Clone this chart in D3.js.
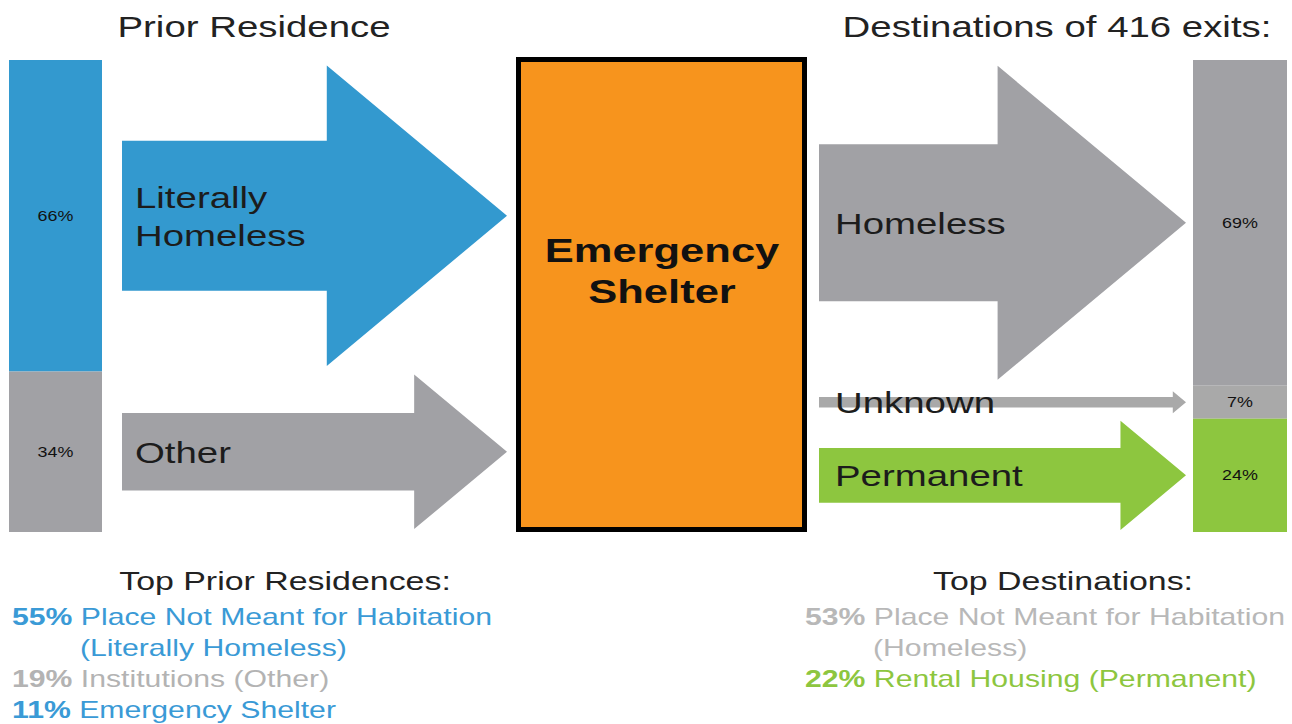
<!DOCTYPE html>
<html>
<head>
<meta charset="utf-8">
<script src="https://cdn.jsdelivr.net/npm/d3@7"></script>
<style>
  body { margin: 0; background: #fff; }
  svg { display: block; font-family: "Liberation Sans", Arial, sans-serif; }
</style>
</head>
<body>
<div id="chart"></div>
<script>
// data
var priorCategories = ["Literally Homeless", "Other"];
var priorValues = [66, 34];
var destCategories = ["Homeless", "Unknown", "Permanent"];
var destValues = [69, 7, 24];
var exitCount = 416;

var topPriorPct = [55, 19, 11];
var topPriorText = ["Place Not Meant for Habitation", "Institutions (Other)", "Emergency Shelter"];
var topPriorNote = ["(Literally Homeless)", null, null];
var topPriorGroup = ["Literally Homeless", "Other", "Literally Homeless"];

var topDestPct = [53, 22];
var topDestText = ["Place Not Meant for Habitation", "Rental Housing (Permanent)"];
var topDestNote = ["(Homeless)", null];
var topDestGroup = ["Homeless", "Permanent"];

var width = 1292, height = 724;
var sx = 1.28; // the original picture is stretched sideways

var colour = {
  "Literally Homeless": "#3399cf",
  "Other": "#a1a1a5",
  "Homeless": "#a1a1a5",
  "Unknown": "#a9a9a9",
  "Permanent": "#8dc63f"
};
var textColour = {
  "Literally Homeless": "#3a9ad6",
  "Other": "#b3b3b3",
  "Homeless": "#b8b8b8",
  "Permanent": "#8dc63f"
};

var svg = d3.select("#chart").append("svg")
  .attr("width", width)
  .attr("height", height);

var y = d3.scaleLinear().domain([0, 100]).range([60, 532]);
var thick = d3.scaleLinear().domain([0, 69]).range([0, 157]);

function stack(cats, vals) {
  var acc = 0;
  return cats.map(function(c, i) {
    var d = { name: c, value: vals[i], y0: acc, y1: acc + vals[i] };
    acc += vals[i];
    return d;
  });
}
var prior = stack(priorCategories, priorValues);
var dest = stack(destCategories, destValues);

function stretchedText(g, x, yy, size, anchor) {
  return g.append("text")
    .attr("transform", "translate(" + x + "," + yy + ") scale(" + sx + ",1)")
    .attr("font-size", size)
    .attr("text-anchor", anchor || "start");
}

// arrow: body of thickness t centred on cy, head twice as tall
function arrowPath(x0, x1, cy, t) {
  var hh = Math.max(t, 11), hl = 2 * hh * 0.6, hx = x1 - hl;
  return "M" + x0 + "," + (cy - t / 2) +
    "L" + hx + "," + (cy - t / 2) +
    "L" + hx + "," + (cy - hh) +
    "L" + x1 + "," + cy +
    "L" + hx + "," + (cy + hh) +
    "L" + hx + "," + (cy + t / 2) +
    "L" + x0 + "," + (cy + t / 2) + "Z";
}

function drawSide(data, barX, barW, arrowX0, arrowX1, labelX) {
  var g = svg.append("g");

  g.selectAll(".seg")
    .data(data)
    .enter().append("rect")
      .attr("class", "seg")
      .attr("x", barX)
      .attr("width", barW)
      .attr("y", function(d) { return y(d.y0); })
      .attr("height", function(d) { return y(d.y1) - y(d.y0); })
      .attr("fill", function(d) { return colour[d.name]; });

  data.forEach(function(d) {
    var cy = (y(d.y0) + y(d.y1)) / 2;
    stretchedText(g, barX + barW / 2, cy + 5, 14, "middle")
      .attr("fill", "#111")
      .text(d.value + "%");

    // the thin "Unknown" arrow is drawn thinner than its share in the original
    var t = d.value < 10 ? thick(d.value) * 0.65 : thick(d.value);
    g.append("path")
      .attr("d", arrowPath(arrowX0, arrowX1, cy, t))
      .attr("fill", colour[d.name]);

    var lines = d.name.split(" ");
    lines.forEach(function(line, i) {
      stretchedText(g, labelX, cy + 11 + (i - (lines.length - 1) / 2) * 38, 30)
        .attr("fill", "#1c1c1c")
        .text(line);
    });
  });
}

drawSide(prior, 9, 93, 122, 507, 135);
drawSide(dest, 1193, 94, 819, 1186, 835);

// centre box
svg.append("rect")
  .attr("x", 518.5).attr("y", 59.5)
  .attr("width", 286).attr("height", 470)
  .attr("fill", "#f7941d")
  .attr("stroke", "#000")
  .attr("stroke-width", 5);

["Emergency", "Shelter"].forEach(function(t, i) {
  stretchedText(svg, 662, 262 + i * 41, 34, "middle")
    .attr("font-weight", "bold")
    .attr("fill", "#111")
    .text(t);
});

// headings
stretchedText(svg, 254, 37, 30, "middle").attr("fill", "#222").text("Prior Residence");
stretchedText(svg, 1057, 37, 30, "middle").attr("fill", "#222").text("Destinations of " + exitCount + " exits:");

// top lists
function drawList(x0, cx, title, pct, text, note, group) {
  stretchedText(svg, cx, 590, 26.5, "middle").attr("fill", "#222").text(title);
  var line = 0;
  pct.forEach(function(p, i) {
    var c = textColour[group[i]];
    var t = stretchedText(svg, x0, 625 + line * 31, 23.6).attr("fill", c);
    t.append("tspan").attr("font-weight", "bold").text(p + "% ");
    t.append("tspan").text(text[i]);
    line++;
    if (note[i]) {
      stretchedText(svg, x0 + 68, 625 + line * 31, 23.6).attr("fill", c).text(note[i]);
      line++;
    }
  });
}

drawList(12, 285, "Top Prior Residences:", topPriorPct, topPriorText, topPriorNote, topPriorGroup);
drawList(805, 1063, "Top Destinations:", topDestPct, topDestText, topDestNote, topDestGroup);
</script>
</body>
</html>
